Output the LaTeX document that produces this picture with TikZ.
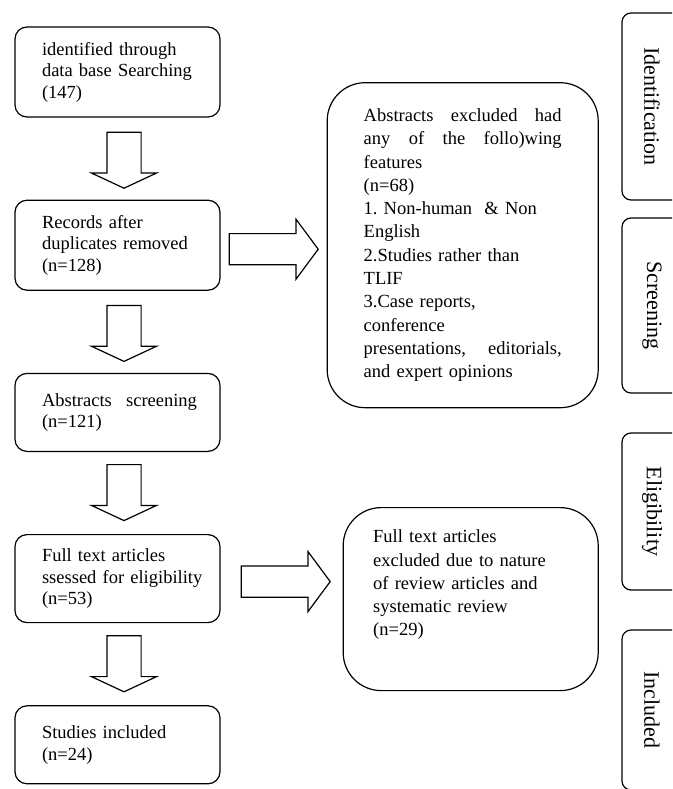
\documentclass[tikz,border=0pt]{standalone}
\usepackage{fontspec}
\setmainfont{Liberation Serif}
\usetikzlibrary{positioning, calc, shapes.arrows}

% a line stretched to the full width of its box (words split by \hfill)
\newcommand{\spreadline}[2][155pt]{\leavevmode\hbox to #1{#2}}
\frenchspacing

\begin{document}
\begin{tikzpicture}[x=1pt,y=-1pt,node distance=82pt,
    stage/.style={draw, line width=1.2pt, rounded corners=12pt, minimum width=205pt, text width=151pt, inner xsep=27pt, align=left, font=\fontsize{18.5}{21.5}\selectfont},
    excluded/.style={draw, line width=1.2pt, rounded corners=38pt, inner ysep=2pt, align=left, font=\fontsize{18.5}{23.3}\selectfont},
    phase/.style={draw, line width=1.2pt, rounded corners=9pt, rotate=-90, minimum height=60pt, font=\fontsize{22}{26}\selectfont},
    downarrow/.style={single arrow, draw, line width=1.2pt, rotate=-90, anchor=tail, inner xsep=0pt, inner ysep=16.5pt, minimum height=56pt, single arrow head extend=15.5pt, single arrow tip angle=130},
    rightarrow/.style={single arrow, draw, line width=1.2pt, anchor=tail, inner xsep=0pt, inner ysep=15pt, minimum height=89pt, single arrow head extend=14.5pt, single arrow tip angle=107}]
\path[use as bounding box, clip] (0,0) rectangle (672,789);

% the stages on the left
  \node[stage, minimum height=90pt] (b1) at (117.5,72) {identified through\\ \mbox{data base Searching}\\ (147)};
  \node[stage, minimum height=90pt] (b2) [below=of b1] {Records after\\ \mbox{duplicates removed}\\ (n=128)};
  \node[stage, minimum height=78pt] (b3) [below=of b2] {\spreadline{Abstracts\hfill screening}\\ (n=121)};
  \node[stage, minimum height=88pt] (b4) [below=of b3] {Full text articles\\ \mbox{ssessed for eligibility}\\ (n=53)};
  \node[stage, minimum height=78pt] (b5) [below=of b4] {Studies included\\ (n=24)};

% the excluded records
  \node[excluded, minimum width=271pt, minimum height=325pt, text width=198pt, inner xsep=36.5pt] (ex1) [right=106pt of b2]
    {\spreadline[198pt]{Abstracts\hfill excluded\hfill had}\\ \spreadline[198pt]{any\hfill of\hfill the\hfill follo)wing}\\ features\\ (n=68)\\ 1. Non-human \ \& Non\\ English\\ 2.Studies rather than\\ TLIF\\ 3.Case reports,\\ conference\\ \spreadline[198pt]{presentations,\hfill editorials,}\\ and expert opinions};
  \node[excluded, minimum width=255pt, minimum height=183pt, text width=195pt, inner xsep=30pt] (ex2) [right=122pt of b4, yshift=-20.5pt]
    {Full text articles\\ excluded due to nature\\ of review articles and\\ systematic review\\ (n=29)\\[9pt] \mbox{}};

% the phases
  \node[phase, minimum width=187pt] (id) at (652,106.5) {Identification};
  \node[phase, minimum width=175pt] (sc) at (652,305.5) {Screening};
  \node[phase, minimum width=157pt] (el) at (652,511.5) {Eligibility};
  \node[phase, minimum width=160pt] (in) at (652,710) {Included};

% the block arrows
  \node[downarrow] (a1) at ($(b1.south)+(6.5,14)$) {};
  \node[downarrow] (a2) at ($(b2.south)+(6.5,14)$) {};
  \node[downarrow] (a3) at ($(b3.south)+(6.5,12)$) {};
  \node[downarrow] (a4) at ($(b4.south)+(6.5,12)$) {};
  \node[rightarrow] (r1) at ($(b2.east)+(8,4)$) {};
  \node[rightarrow] (r2) at ($(b4.east)+(20,3)$) {};

\end{tikzpicture}
\end{document}
